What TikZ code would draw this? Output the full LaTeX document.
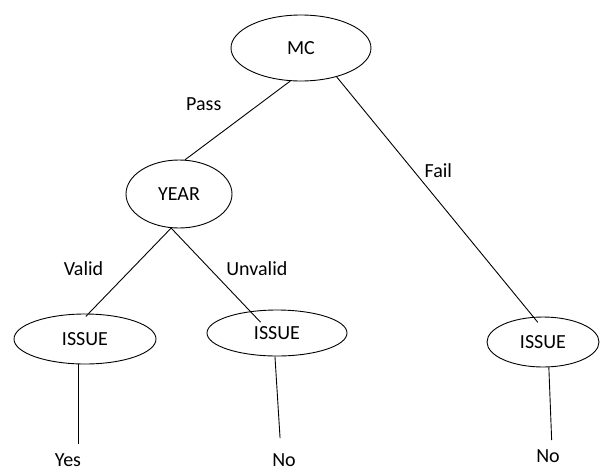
\documentclass[tikz,border=0pt]{standalone}
\usepackage{fontspec}
\setmainfont{Carlito}
\usetikzlibrary{shapes.geometric}

\begin{document}
\begin{tikzpicture}[x=1pt,y=-1pt,line width=0.9pt,font=\fontsize{20}{24}\selectfont,
	test/.style={ellipse,draw,inner sep=0pt},
	leaf/.style={inner sep=0pt}]
	\useasboundingbox (0,0) rectangle (600,472);
	\node[test,minimum width=140pt,minimum height=66pt] (MC) at (301,48) {MC};
	\node[test,minimum width=106pt,minimum height=68pt] (YEAR) at (179,194) {YEAR};
	\node[test,minimum width=142pt,minimum height=50pt] (A) at (85,339) {ISSUE};
	\node[test,minimum width=140pt,minimum height=46pt] (B) at (277,333) {ISSUE};
	\node[test,minimum width=112pt,minimum height=50pt] (C) at (543,342) {ISSUE};
	\node[leaf] (Yes) at (68,460) {Yes};
	\node[leaf] (NoB) at (284,460) {No};
	\node[leaf] (NoC) at (548,456) {No};

	\path (MC.252) edge node[pos=0.29, xshift=-56pt] {Pass} (YEAR.80);
	\path (MC.321) edge[shorten >=-7pt] node[pos=0.39, xshift=25pt] {Fail} (C.111);
	\path (YEAR.257) edge[shorten >=-4pt] node[pos=0.48, xshift=-48pt] {Valid} (A.82);
	\path (YEAR.257) edge[shorten >=-15pt] node[pos=0.49, xshift=47pt] {Unvalid} (B.141);

	\path (A.256) edge[shorten >=9pt] (A.256 |- Yes.north);
	\path (B.265) edge[shorten >=15pt] ([xshift=-3pt]NoB.north);
	\path (C.283) edge[shorten >=9pt] ([xshift=4pt]NoC.north);
\end{tikzpicture}
\end{document}
